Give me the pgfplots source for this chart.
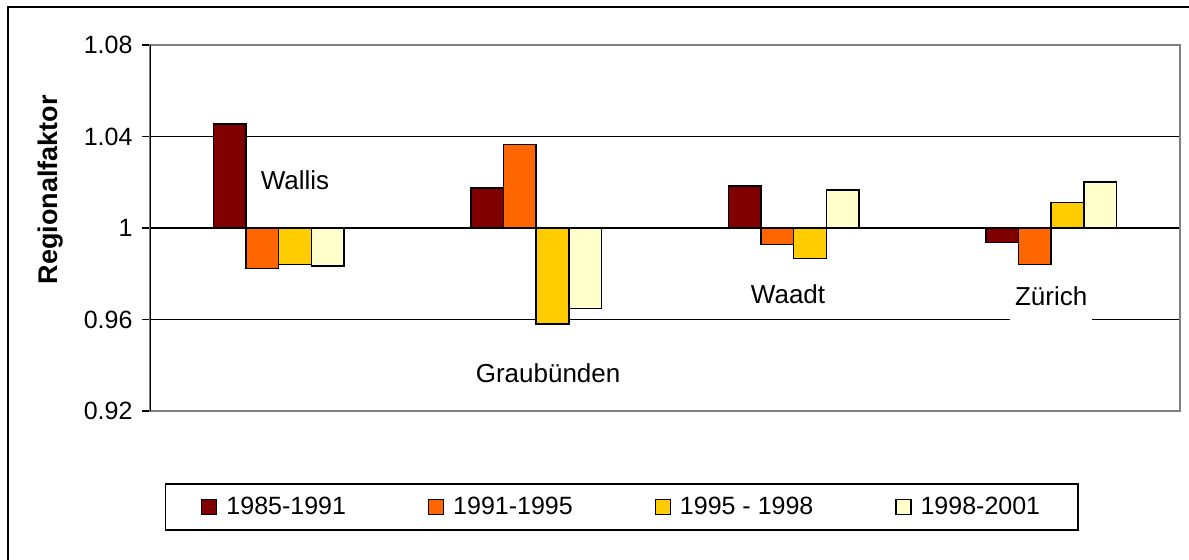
\documentclass[border=0pt]{standalone}
\usepackage{fontspec}
\setmainfont{Liberation Sans}
\usepackage{pgfplots}
\pgfplotsset{compat=1.18}
\definecolor{cA}{HTML}{800000}
\definecolor{cB}{HTML}{FF6600}
\definecolor{cC}{HTML}{FFCC00}
\definecolor{cD}{HTML}{FFFFCC}
\definecolor{frameg}{HTML}{808080}
\begin{document}
\begin{tikzpicture}
\path[use as bounding box] (0,0) rectangle (1189bp,560bp);
\draw[black, line width=2bp] (8bp,0) -- (8bp,553bp) -- (1189bp,553bp);
\begin{axis}[
 at={(150bp,149bp)}, anchor=south west,
 scale only axis, width=1030bp, height=366bp,
 xmin=-0.5, xmax=3.5, ymin=-0.08, ymax=0.08,
 y filter/.expression={y-1},
 scaled y ticks=false,
 xtick=\empty,
 ytick={-0.08,-0.04,0,0.04,0.08},
 yticklabels={0.92,0.96,1,1.04,1.08},
 ymajorgrids, grid style={black, line width=1.3bp},
 axis line style={frameg, line width=2bp},
 tick align=outside, ytick pos=left, major tick length=8bp,
 major tick style={black, line width=1.5bp},
 tick label style={font=\fontsize{25bp}{30bp}\selectfont},
 yticklabel style={xshift=-6bp},
 ylabel={Regionalfaktor},
 ylabel style={font=\fontsize{27bp}{32bp}\selectfont\bfseries, at={(axis description cs:-0.097,0.604)}, anchor=center},
 ybar=0pt, bar width=32.6bp,
 legend columns=4,
 legend image code/.code={\draw[#1, line width=1.2bp] (0bp,-7.5bp) rectangle (15bp,7.5bp);},
 legend style={at={(axis description cs:0.458,-0.262)}, anchor=center, draw=black, line width=1.5bp, font=\fontsize{25bp}{30bp}\selectfont, inner xsep=36bp, inner ysep=11.5bp, /tikz/every odd column/.append style={column sep=7bp}, /tikz/every even column/.append style={column sep=80bp}},
]
\addplot[fill=cA, draw=black, line width=1.5bp] coordinates {(0,1.0455) (1,1.0174) (2,1.0184) (3,0.9937)};
\addplot[fill=cB, draw=black, line width=1.5bp] coordinates {(0,0.9824) (1,1.0366) (2,0.9927) (3,0.9840)};
\addplot[fill=cC, draw=black, line width=1.5bp] coordinates {(0,0.9841) (1,0.9580) (2,0.9867) (3,1.0112)};
\addplot[fill=cD, draw=black, line width=1.5bp] coordinates {(0,0.9833) (1,0.9649) (2,1.0165) (3,1.0200)};
\legend{1985-1991, 1991-1995, 1995 - 1998, 1998-2001}
\node[font=\fontsize{26bp}{30bp}\selectfont] at (axis cs:0.063,0.021) {Wallis};
\node[font=\fontsize{26bp}{30bp}\selectfont] at (axis cs:1.046,-0.0634) {Graubünden};
\node[font=\fontsize{26bp}{30bp}\selectfont] at (axis cs:1.978,-0.0289) {Waadt};
\node[font=\fontsize{26bp}{30bp}\selectfont, fill=white, inner xsep=5bp, inner ysep=2bp, text depth=16bp, anchor=base] at (axis cs:3.0,-0.0337) {Zürich};
\draw[black, line width=1.5bp] (rel axis cs:0,0) -- (rel axis cs:0,1);
\end{axis}
\end{tikzpicture}
\end{document}
